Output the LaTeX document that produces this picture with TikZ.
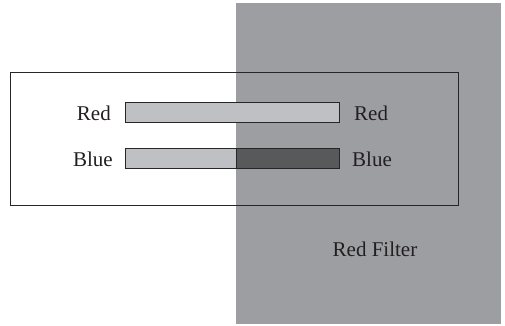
\documentclass[tikz,border=0pt]{standalone}
\usepackage{fontspec}
\setmainfont{Liberation Serif}
\definecolor{filtergray}{HTML}{9D9EA2}
\definecolor{lightbar}{HTML}{BFC0C3}
\definecolor{darkbar}{HTML}{58595B}
\definecolor{textgray}{HTML}{231F20}
\begin{document}
\begin{tikzpicture}[x=1pt,y=1pt,
  lbl/.style={font=\fontsize{21}{24}\selectfont, text=textgray, inner sep=0pt},
  barbox/.style={draw=black!85, line width=0.9pt},
  frame/.style={draw=black!85, line width=0.9pt}]
\useasboundingbox (0,0) rectangle (505,325);
% filter
\fill[filtergray] (236,1) rectangle (501,322);
% outer box
\draw[frame] (10,120) rectangle (458,253);
% red bar
\filldraw[barbox, fill=lightbar] (125,203) rectangle (339,223);
% blue bar
\filldraw[barbox, fill=lightbar] (125,157) rectangle (236,177);
\filldraw[barbox, fill=darkbar] (236,157) rectangle (339,177);
% labels
\node[lbl, anchor=east] (redL) at (111,212) {Red};
\node[lbl, anchor=east] (blueL) at (113,166) {Blue};
\node[lbl, anchor=west] (redR) at (354,212) {Red};
\node[lbl, anchor=west] (blueR) at (352,166) {Blue};
\node[lbl] (filter) at (375,76) {Red Filter};
\end{tikzpicture}
\end{document}
